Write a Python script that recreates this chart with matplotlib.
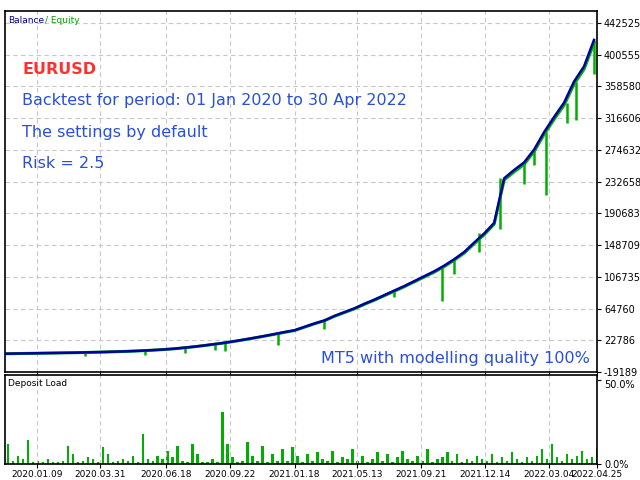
import matplotlib
matplotlib.use("Agg")
import matplotlib.pyplot as plt
import numpy as np

# balance sampled every step (index units)
balance = [5000,5200,5400,5600,5800,6000,6200,6400,6700,7000,7300,7700,8100,8600,9200,9900,
           10700,11700,13000,14400,16000,17700,19500,21600,23800,26100,28500,31000,33600,36000,
           40500,45000,49000,55000,60000,65000,71000,76500,82500,88500,94500,101000,107500,114000,
           121500,130000,139500,152000,164000,178000,237000,248000,258000,275000,298000,318000,
           337000,365000,385000,420000]
# equity dips: (index, equity low)
dip_idx = [8, 14, 18, 21, 22, 27.3, 32, 39, 43.8, 45, 47.5, 49.6, 52, 53, 54.2, 56.3, 57.2, 59.0]
dip_val = [2500, 3500, 6000, 10000, 8000, 16000, 38000, 80000, 75000, 110000, 140000, 170000, 230000,
           255000, 215000, 310000, 314000, 375000]
# deposit load (%) every half index
load = [12,2,5,3,14,1,2,1,3,1,1,2,11,6,1,2,4,3,1,10,6,1,2,3,2,5,1,18,3,2,
        5,3,8,4,11,2,1,12,6,1,1,3,1,31,12,4,1,2,13,5,2,11,1,6,2,9,2,10,5,1,
        6,2,7,3,2,8,1,4,3,9,2,5,1,3,7,2,6,1,4,8,3,2,5,2,9,1,3,4,7,2,
        6,1,3,2,5,3,2,6,1,4,2,7,3,1,4,2,5,9,3,12,4,2,6,3,5,8,3,4,9]
ytick_labels = ["442525","400555","358580","316606","274632","232658","190683",
                "148709","106735","64760","22786","-19189"]
xtick_pos = [3.2, 9.5, 16.1, 22.5, 29.0, 35.3, 41.7, 48.1, 54.5, 59.3]
xtick_labels = ["2020.01.09","2020.03.31","2020.06.18","2020.09.22","2021.01.18",
                "2021.05.13","2021.09.21","2021.12.14","2022.03.04","2022.04.25"]

fig = plt.figure(figsize=(6.4, 4.8), dpi=100)
W, H = 640, 480
ax = fig.add_axes([5/W, 1-372/H, 592/W, 361/H])
ax2 = fig.add_axes([5/W, 1-464/H, 592/W, 89/H])
grid_kw = dict(color="#c8c8c8", linestyle=(0, (4, 3)), linewidth=0.8)
tickvals = [float(t) for t in ytick_labels]
xs = np.arange(len(balance))
eq = np.array(balance) * 0.99
ax.plot(xs, eq, color="#00b000", lw=2.2, zorder=2)
ax.vlines(dip_idx, dip_val, [balance[min(int(round(i)), len(balance)-1)] for i in dip_idx],
          color="#00b000", lw=1.8, zorder=2)
ax.plot(xs, balance, color="#0000a0", lw=1.8, zorder=3)
ax.set_xlim(0, 59.2)
ax.set_ylim(tickvals[-1], tickvals[0] + (tickvals[0]-tickvals[1]) * 12/32)
ax.set_yticks(tickvals)
ax.set_yticklabels(ytick_labels)
ax.set_xticks(xtick_pos)
ax.set_xticklabels([])
for a in (ax, ax2):
    a.yaxis.tick_right()
    a.tick_params(axis="y", labelsize=7, length=3, pad=2)
    a.tick_params(axis="x", length=3)
    a.grid(True, **grid_kw)
    for s in a.spines.values():
        s.set_linewidth(1.2)
ax.text(0.005, 0.985, "Balance", color="#000080", fontsize=6.5, transform=ax.transAxes, va="top")
ax.text(0.068, 0.985, "/ Equity", color="#00a000", fontsize=6.5, transform=ax.transAxes, va="top")
ax.text(22/W, 1-70/H, "EURUSD", transform=fig.transFigure, color="#ff3030", fontsize=11.5, fontweight="bold", va="center")
for t, y in [("Backtest for period: 01 Jan 2020 to 30 Apr 2022", 101),
             ("The settings by default", 132), ("Risk = 2.5", 164)]:
    ax.text(22/W, 1-y/H, t, transform=fig.transFigure, color="#2850d8", fontsize=11.5, va="center")
ax.text(590/W, 1-358/H, "MT5 with modelling quality 100%", transform=fig.transFigure,
        color="#2850d8", fontsize=11.5, va="center", ha="right")

bx = np.arange(len(load)) * 0.5 + 0.3
ax2.bar(bx, load, width=0.25, color="#00b000")
ax2.set_xlim(0, 59.2)
ax2.set_ylim(0, 53)
ax2.set_yticks([0, 50])
ax2.set_yticklabels(["0.0%", "50.0%"])
ax2.get_yticklabels()[1].set_va("top")
ax2.set_xticks(xtick_pos)
ax2.set_xticklabels(xtick_labels, fontsize=6.5)
ax2.tick_params(axis="x", pad=1)
ax2.grid(axis="y", visible=False)
ax2.text(0.005, 0.96, "Deposit Load", fontsize=6.5, transform=ax2.transAxes, va="top")
fig.savefig("out.png", dpi=100)
